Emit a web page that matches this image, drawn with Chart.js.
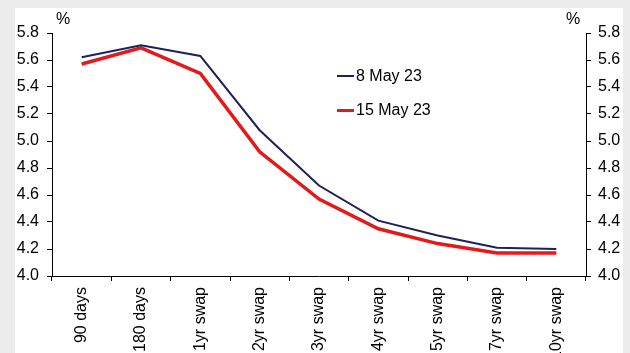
<!DOCTYPE html>
<html lang="en">
<head>
  <meta charset="UTF-8" />
  <title>Rate curve, 8 May 23 vs 15 May 23</title>
  <script src="https://cdn.jsdelivr.net/npm/chart.js"></script>
  <style>
    html, body { margin: 0; padding: 0; width: 630px; height: 353px; overflow: hidden; background: #ebebeb; font-family: "Liberation Sans", Arial, sans-serif; }
    #panel { position: absolute; left: 15px; top: 8px; width: 608px; height: 345px; background: #fff; }
    #curve { position: absolute; left: 0; top: 0; }
    #legend { position: absolute; left: 322px; top: 51px; font-size: 16px; color: #000; }
    .item { display: flex; align-items: center; height: 34px; }
    .swatch { width: 17px; margin-right: 2px; }
  </style>
</head>
<body>
  <div id="panel">
    <canvas id="curve" width="608" height="345"></canvas>
    <div id="legend"></div>
  </div>

  <script>
    // tenors along the curve
    const categories = ['90 days', '180 days', '1yr swap', '2yr swap', '3yr swap', '4yr swap', '5yr swap', '7yr swap', '10yr swap'];
    // yields, %
    const may8 = [5.62, 5.71, 5.63, 5.08, 4.67, 4.41, 4.30, 4.21, 4.20];
    const may15 = [5.57, 5.69, 5.50, 4.92, 4.57, 4.35, 4.24, 4.17, 4.17];
    const yMin = 4.0, yMax = 5.8, yStep = 0.2;

    const font = { family: '"Liberation Sans", Arial, sans-serif', size: 16 };
    const ink = '#000';

    // "%" unit marks above both value axes
    const unitMarks = {
      id: 'unitMarks',
      afterDraw(chart) {
        const { ctx, chartArea } = chart;
        ctx.save();
        ctx.font = '16px "Liberation Sans", Arial, sans-serif';
        ctx.fillStyle = ink;
        ctx.textAlign = 'center';
        ctx.textBaseline = 'middle';
        ctx.fillText('%', chartArea.left + 11, chartArea.top - 13);
        ctx.fillText('%', chartArea.right - 13, chartArea.top - 13);
        ctx.restore();
      }
    };

    const valueAxis = (position, pad) => ({
      position,
      min: yMin,
      max: yMax,
      afterFit: s => { s.width = 37; },
      border: { color: '#000', width: 1 },
      grid: { drawOnChartArea: false, tickLength: 5, color: '#000' },
      ticks: {
        stepSize: yStep,
        padding: pad,
        color: ink,
        font,
        callback: v => Number(v).toFixed(1)
      }
    });

    const chart = new Chart(document.getElementById('curve'), {
      type: 'line',
      data: {
        labels: categories,
        datasets: [
          { label: '8 May 23', data: may8, borderColor: '#202058', borderWidth: 2, pointRadius: 0, tension: 0, yAxisID: 'y' },
          { label: '15 May 23', data: may15, borderColor: '#e31a1c', borderWidth: 3.5, pointRadius: 0, tension: 0, yAxisID: 'y' }
        ]
      },
      options: {
        responsive: false,
        animation: false,
        layout: { padding: { top: 25, left: 0, right: 0, bottom: 0 } },
        plugins: { legend: { display: false }, tooltip: { enabled: false } },
        scales: {
          x: {
            offset: true,
            afterFit: s => { s.height = 77; },
            border: { color: '#000', width: 1 },
            grid: { offset: true, drawOnChartArea: false, tickLength: 5, color: '#000' },
            ticks: { minRotation: 90, maxRotation: 90, autoSkip: false, padding: 6, color: ink, font }
          },
          y: valueAxis('left', 8),
          y2: valueAxis('right', 7)
        }
      },
      plugins: [unitMarks]
    });

    // legend sits inside the plot, built from the datasets
    const legendEl = document.getElementById('legend');
    chart.data.datasets.forEach(ds => {
      const item = document.createElement('div');
      item.className = 'item';
      const sw = document.createElement('span');
      sw.className = 'swatch';
      sw.style.borderTop = ds.borderWidth + 'px solid ' + ds.borderColor;
      const txt = document.createElement('span');
      txt.textContent = ds.label;
      item.append(sw, txt);
      legendEl.appendChild(item);
    });
  </script>
</body>
</html>
